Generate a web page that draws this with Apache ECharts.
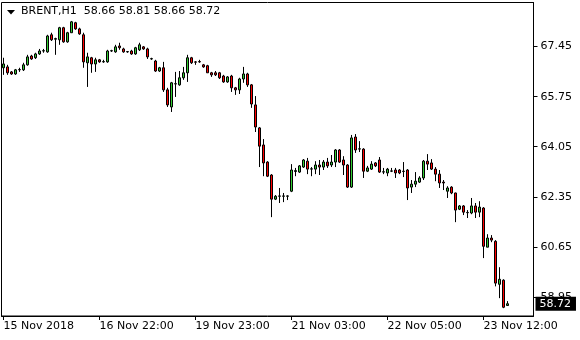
<!DOCTYPE html>
<html>
<head>
<meta charset="utf-8">
<script src="https://cdn.jsdelivr.net/npm/echarts@6/dist/echarts.min.js"></script>
<style>
html,body{margin:0;padding:0;background:#fff;}
#chart{width:580px;height:340px;}
</style>
</head>
<body>
<div id="chart"></div>
<script>
const symbol = 'BRENT';
const timeframe = 'H1';
const tickLabels = ['15 Nov 2018', '16 Nov 22:00', '19 Nov 23:00', '21 Nov 03:00', '22 Nov 05:00', '23 Nov 12:00'];
const tickIndex = [0, 24, 48, 72, 96, 120];
const priceTicks = [58.95, 60.65, 62.35, 64.05, 65.75, 67.45];

const opens = [66.73,66.76,66.59,66.52,66.66,66.66,66.83,67.13,67.07,67.20,67.30,67.27,67.85,67.70,67.68,68.09,67.61,67.92,68.26,68.05,
67.85,66.90,67.07,66.86,67.00,66.93,66.93,67.30,67.27,67.47,67.37,67.27,67.30,67.20,67.34,67.44,67.37,67.03,66.96,66.62,
66.73,65.98,65.40,66.18,66.15,66.39,66.56,67.07,66.93,66.94,66.83,66.80,66.56,66.56,66.56,66.45,66.25,66.45,66.05,65.98,
66.35,66.52,66.15,65.47,64.69,64.11,63.53,63.09,62.27,62.37,62.37,62.37,62.54,63.21,63.19,63.36,63.56,63.29,63.29,63.43,
63.36,63.53,63.43,63.53,63.94,63.60,63.43,62.68,64.38,63.97,63.97,63.22,63.29,63.50,63.60,63.19,63.16,63.22,63.26,63.26,
63.21,63.26,62.68,62.78,62.85,62.99,63.56,63.50,63.29,63.12,62.85,62.54,62.68,62.48,61.93,62.04,61.81,61.80,62.04,61.83,
61.97,60.64,60.95,60.84,59.38,59.52,58.66];
const closes = [66.86,66.56,66.52,66.66,66.67,66.83,67.10,67.03,67.20,67.30,67.31,67.81,67.68,67.72,68.09,67.61,67.92,68.29,68.05,67.88,
66.93,67.10,66.86,67.00,66.93,66.94,67.30,67.31,67.44,67.41,67.27,67.28,67.20,67.41,67.51,67.37,67.10,67.04,66.62,66.73,
65.98,65.47,66.22,66.19,66.39,66.56,67.07,66.90,66.92,66.93,66.76,66.56,66.49,66.49,66.39,66.25,66.42,66.05,65.98,66.35,
66.52,66.15,65.50,64.72,64.07,63.50,63.05,62.27,62.37,62.38,62.38,62.38,63.26,63.24,63.40,63.60,63.29,63.30,63.43,63.36,
63.53,63.40,63.53,63.94,63.53,63.43,62.68,64.35,63.94,63.98,63.22,63.33,63.46,63.40,63.19,63.20,63.29,63.23,63.16,63.16,
63.22,62.65,62.78,62.88,62.99,63.56,63.46,63.29,63.12,62.82,62.82,62.65,62.48,61.90,62.04,61.83,61.82,62.04,61.83,62.00,
60.67,60.95,60.88,59.42,59.55,58.60,58.72];
const lows = [66.49,66.49,66.49,66.49,66.59,66.62,66.80,67.00,67.03,67.17,67.24,67.24,67.64,67.17,67.51,67.58,67.58,67.92,68.02,67.85,
66.73,66.08,66.56,66.59,66.90,66.90,66.90,67.27,67.24,67.34,67.24,67.24,67.17,67.17,67.30,67.34,67.03,67.00,66.59,66.59,
65.91,65.40,65.23,65.74,66.12,66.32,66.25,66.86,66.83,66.90,66.73,66.56,66.42,66.45,66.35,66.22,66.22,65.91,65.81,65.84,
66.22,66.08,65.37,64.55,63.36,63.05,63.02,61.66,62.24,62.14,62.17,62.24,62.51,63.05,63.16,63.33,63.12,63.05,63.12,63.09,
63.26,63.33,63.36,63.36,63.50,63.09,62.65,62.65,63.84,63.87,62.99,63.19,63.26,63.36,63.16,63.12,63.05,63.19,62.99,63.12,
63.02,62.24,62.48,62.68,62.82,62.92,63.26,63.26,62.88,62.65,62.58,62.31,62.44,61.49,61.90,61.73,61.63,61.76,61.63,61.66,
60.27,60.64,60.81,59.31,58.91,58.57,58.66];
const highs = [67.07,66.83,66.62,66.69,66.73,66.90,67.17,67.17,67.24,67.37,67.37,67.85,67.92,67.75,68.12,68.12,67.95,68.32,68.29,68.09,
67.92,67.24,67.10,67.07,67.03,67.00,67.34,67.34,67.51,67.58,67.41,67.30,67.34,67.44,67.58,67.47,67.41,67.07,67.00,66.76,
66.93,66.05,66.25,66.59,66.62,66.76,67.17,67.10,66.96,67.00,66.86,66.83,66.59,66.62,66.59,66.49,66.45,66.49,66.08,66.39,
66.76,66.56,66.18,65.77,64.72,64.31,63.56,63.12,62.41,62.65,62.48,62.40,63.46,63.33,63.43,63.63,63.67,63.36,63.56,63.60,
63.60,63.67,63.77,63.97,63.97,63.73,63.46,64.45,64.48,64.24,64.00,63.40,63.56,63.53,63.70,63.33,63.33,63.33,63.33,63.29,
63.53,63.29,62.92,63.19,63.05,63.60,63.80,63.63,63.36,63.26,62.92,62.71,62.71,62.49,62.07,62.07,61.90,62.31,62.14,62.20,
62.00,61.08,61.05,60.88,59.96,59.55,58.81];

const slotCount = 133; // visible bar slots on the axis (bars + empty right margin)
const categories = [];
for (let i = 0; i < slotCount; i++) categories.push(String(i));
const candles = opens.map((o, i) => [o, closes[i], lows[i], highs[i]]);
const last = opens.length - 1;
const lastClose = closes[last];
const header = symbol + ',' + timeframe + '  ' +
  [opens[last], highs[last], lows[last], closes[last]].map(v => v.toFixed(2)).join(' ');

const FONT = 'DejaVu Sans';
const isTick = (idx) => tickIndex.indexOf(Number(idx)) >= 0;

const chart = echarts.init(document.getElementById('chart'), null, {renderer: 'canvas'});
chart.setOption({
  animation: false,
  backgroundColor: '#ffffff',
  title: {
    text: header,
    left: 21, top: 6, padding: 0,
    textStyle: {fontFamily: FONT, fontSize: 11, fontWeight: 'normal', color: '#000'}
  },
  graphic: [{
    type: 'polygon',
    shape: {points: [[7, 10], [15, 10], [11, 14.5]]},
    style: {fill: '#000'}
  }],
  grid: {left: 1.5, right: 46.5, top: 2.5, bottom: 24, show: true, borderColor: '#000', borderWidth: 1, backgroundColor: '#fff'},
  xAxis: {
    type: 'category',
    data: categories,
    boundaryGap: true,
    axisLine: {show: true, lineStyle: {color: '#000', width: 1}},
    axisTick: {show: true, alignWithLabel: true, length: 4, lineStyle: {color: '#000'},
      interval: (idx) => isTick(idx)},
    axisLabel: {
      show: true, interval: (idx) => isTick(idx), align: 'left', margin: 5,
      fontFamily: FONT, fontSize: 11, color: '#000',
      formatter: (val) => { const k = tickIndex.indexOf(Number(val)); return k >= 0 ? tickLabels[k] : ''; }
    },
    splitLine: {show: false}
  },
  yAxis: {
    type: 'value',
    position: 'right',
    min: 58.304, max: 68.946,
    scale: true,
    axisLine: {show: true, lineStyle: {color: '#000', width: 1}},
    axisTick: {show: true, length: 4, lineStyle: {color: '#000'}, customValues: priceTicks},
    axisLabel: {show: true, margin: 7, fontFamily: FONT, fontSize: 11, color: '#000',
      customValues: priceTicks, formatter: (v) => v.toFixed(2)},
    splitLine: {show: false}
  },
  series: [{
    type: 'candlestick',
    data: candles,
    barWidth: 2,
    itemStyle: {color: '#32cd32', color0: '#ff0000', borderColor: '#000', borderColor0: '#000', borderWidth: 1},
    emphasis: {disabled: true},
    markLine: {
      silent: true, symbol: ['none', 'none'],
      lineStyle: {color: 'transparent', width: 0},
      label: {show: true, position: 'end', distance: 2, formatter: () => lastClose.toFixed(2),
        backgroundColor: '#000', color: '#fff', fontFamily: FONT, fontSize: 11, padding: [2, 5, 1, 4]},
      data: [{yAxis: lastClose}]
    }
  }]
});
</script>
</body>
</html>
